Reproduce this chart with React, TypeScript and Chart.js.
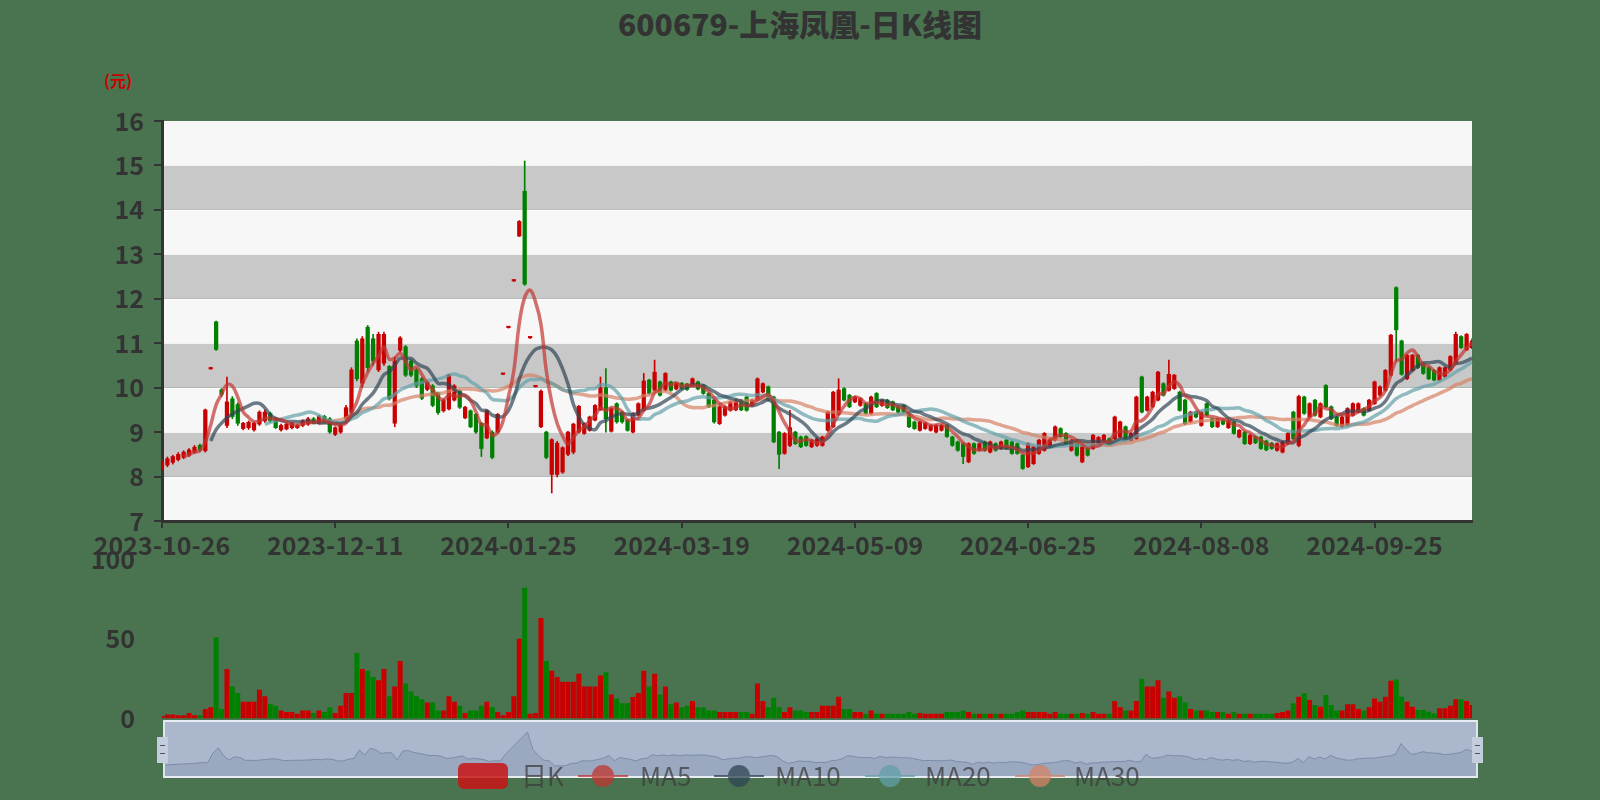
import React, { useEffect, useRef } from "react";
import { Chart, registerables } from "chart.js";

Chart.register(...registerables);

// ---------- data ----------
const START_DATE = "2023-10-26";
const HOLIDAYS = [
  "2024-01-01", "2024-02-09", "2024-02-12", "2024-02-13", "2024-02-14", "2024-02-15", "2024-02-16",
  "2024-04-04", "2024-04-05", "2024-05-01", "2024-05-02", "2024-05-03", "2024-06-10",
  "2024-09-16", "2024-09-17", "2024-10-01", "2024-10-02", "2024-10-03", "2024-10-04", "2024-10-07",
];
const LABEL_EVERY = 32;

// [open, close, low, high]
const ohlc: number[][] = [
  [8.20, 8.32, 8.15, 8.36], [8.26, 8.40, 8.22, 8.44], [8.32, 8.45, 8.28, 8.48], [8.38, 8.50, 8.35, 8.54], [8.43, 8.55, 8.40, 8.58],
  [8.48, 8.60, 8.45, 8.63], [8.55, 8.66, 8.52, 8.70], [8.70, 8.60, 8.56, 8.73], [8.58, 9.50, 8.55, 9.52], [10.42, 10.44, 10.42, 10.46],
  [11.48, 10.86, 10.84, 11.50], [9.95, 9.85, 9.80, 9.98], [9.15, 9.68, 9.10, 10.24], [9.75, 9.35, 9.30, 9.80], [9.62, 9.20, 9.15, 9.66],
  [9.08, 9.20, 9.05, 9.22], [9.10, 9.22, 9.06, 9.25], [9.05, 9.20, 9.02, 9.23], [9.18, 9.45, 9.15, 9.48], [9.25, 9.45, 9.22, 9.50],
  [9.42, 9.25, 9.22, 9.45], [9.30, 9.10, 9.08, 9.33], [9.05, 9.15, 9.02, 9.18], [9.07, 9.18, 9.05, 9.20], [9.10, 9.20, 9.07, 9.22],
  [9.10, 9.15, 9.08, 9.18], [9.15, 9.25, 9.12, 9.28], [9.18, 9.30, 9.15, 9.33], [9.30, 9.20, 9.18, 9.33], [9.20, 9.35, 9.18, 9.38],
  [9.35, 9.22, 9.20, 9.38], [9.30, 9.00, 8.97, 9.33], [8.95, 9.10, 8.92, 9.12], [9.00, 9.15, 8.97, 9.18], [9.30, 9.55, 9.25, 9.60],
  [9.45, 10.40, 9.40, 10.45], [11.05, 10.20, 10.15, 11.10], [10.10, 11.10, 10.00, 11.15], [11.36, 10.45, 10.36, 11.40], [11.10, 10.60, 10.50, 11.20],
  [10.40, 11.20, 10.36, 11.25], [10.55, 11.20, 10.50, 11.25], [10.48, 9.75, 9.72, 10.50], [9.20, 10.60, 9.12, 10.69], [10.84, 11.12, 10.80, 11.15],
  [10.92, 10.28, 10.25, 10.95], [10.60, 10.28, 10.25, 10.63], [10.40, 10.04, 10.00, 10.43], [10.20, 9.76, 9.73, 10.23], [9.96, 10.12, 9.93, 10.15],
  [10.04, 9.60, 9.57, 10.07], [9.88, 9.44, 9.40, 9.90], [9.48, 9.72, 9.45, 9.75], [9.52, 10.28, 9.50, 10.30], [9.72, 10.04, 9.70, 10.07],
  [9.92, 9.56, 9.53, 9.95], [9.32, 9.56, 9.30, 9.58], [9.48, 9.12, 9.10, 9.50], [9.40, 9.00, 8.97, 9.42], [9.20, 8.63, 8.45, 9.22],
  [8.87, 9.48, 8.85, 9.50], [9.00, 8.43, 8.40, 9.03], [9.00, 9.40, 8.98, 9.42], [10.30, 10.31, 10.29, 10.32], [11.35, 11.36, 11.34, 11.37],
  [12.40, 12.42, 12.39, 12.43], [13.41, 13.74, 13.40, 13.76], [14.42, 12.33, 12.30, 15.10], [11.12, 11.13, 11.11, 11.14], [10.02, 10.03, 10.01, 10.04],
  [9.12, 9.92, 9.10, 9.95], [9.00, 8.43, 8.40, 9.02], [8.05, 8.83, 7.63, 8.85], [8.05, 8.75, 7.99, 8.79], [8.10, 8.65, 8.07, 8.67],
  [8.50, 9.00, 8.47, 9.02], [8.55, 9.18, 8.51, 9.20], [9.00, 9.58, 8.98, 9.60], [8.97, 9.19, 8.95, 9.21], [9.04, 9.34, 9.02, 9.36],
  [9.27, 9.60, 9.25, 9.62], [9.50, 10.00, 9.49, 10.24], [10.00, 9.30, 9.00, 10.43], [9.02, 9.53, 9.00, 9.55], [9.64, 9.23, 9.20, 9.66],
  [9.45, 9.23, 9.20, 9.47], [9.27, 9.04, 9.02, 9.29], [9.00, 9.42, 8.98, 9.44], [9.38, 9.64, 9.36, 9.66], [9.49, 10.15, 9.47, 10.32],
  [10.17, 9.87, 9.85, 10.19], [9.94, 10.35, 9.92, 10.62], [10.13, 9.83, 9.81, 10.15], [9.94, 10.32, 9.92, 10.34], [10.13, 9.94, 9.92, 10.15],
  [9.97, 10.10, 9.95, 10.12], [10.10, 9.98, 9.96, 10.12], [10.08, 9.96, 9.94, 10.10], [10.05, 10.20, 10.03, 10.22], [10.13, 9.97, 9.95, 10.15],
  [10.05, 9.87, 9.85, 10.07], [9.87, 9.57, 9.55, 9.89], [9.72, 9.23, 9.20, 9.74], [9.19, 9.57, 9.17, 9.59], [9.38, 9.57, 9.36, 9.59],
  [9.49, 9.68, 9.47, 9.70], [9.50, 9.72, 9.48, 9.74], [9.72, 9.50, 9.48, 9.74], [9.79, 9.49, 9.47, 9.81], [9.60, 9.72, 9.58, 9.74],
  [9.72, 10.20, 9.70, 10.22], [9.90, 10.09, 9.88, 10.11], [10.02, 9.72, 9.70, 10.04], [9.79, 8.78, 8.76, 9.81], [9.00, 8.50, 8.18, 9.02],
  [8.52, 8.97, 8.50, 8.99], [8.70, 9.10, 8.67, 9.49], [9.00, 8.74, 8.72, 9.02], [8.89, 8.67, 8.65, 8.91], [8.90, 8.70, 8.68, 8.92],
  [8.67, 8.82, 8.65, 8.84], [8.70, 8.85, 8.68, 8.87], [8.70, 8.89, 8.68, 8.91], [9.04, 9.45, 9.02, 9.47], [9.12, 9.90, 9.10, 9.92],
  [9.40, 9.95, 9.38, 10.20], [9.98, 9.72, 9.70, 10.00], [9.83, 9.57, 9.55, 9.85], [9.68, 9.79, 9.66, 9.81], [9.60, 9.75, 9.58, 9.77],
  [9.64, 9.42, 9.40, 9.66], [9.42, 9.79, 9.40, 9.81], [9.87, 9.57, 9.55, 9.89], [9.60, 9.72, 9.58, 9.74], [9.72, 9.55, 9.53, 9.74],
  [9.68, 9.50, 9.48, 9.70], [9.57, 9.45, 9.43, 9.59], [9.60, 9.45, 9.43, 9.62], [9.45, 9.12, 9.10, 9.47], [9.23, 9.08, 9.06, 9.25],
  [9.04, 9.23, 9.02, 9.25], [9.08, 9.20, 9.06, 9.22], [9.04, 9.15, 9.02, 9.17], [9.00, 9.15, 8.98, 9.17], [9.04, 9.15, 9.02, 9.17],
  [9.15, 8.90, 8.88, 9.17], [8.89, 8.70, 8.68, 8.91], [8.78, 8.59, 8.57, 8.80], [8.74, 8.45, 8.29, 8.76], [8.33, 8.74, 8.31, 8.76],
  [8.74, 8.52, 8.50, 8.76], [8.59, 8.74, 8.57, 8.76], [8.78, 8.59, 8.57, 8.80], [8.55, 8.78, 8.53, 8.80], [8.74, 8.59, 8.57, 8.76],
  [8.63, 8.78, 8.61, 8.80], [8.82, 8.63, 8.61, 8.84], [8.78, 8.52, 8.50, 8.80], [8.74, 8.52, 8.50, 8.76], [8.48, 8.18, 8.16, 8.50],
  [8.22, 8.74, 8.20, 8.76], [8.29, 8.67, 8.27, 8.69], [8.52, 8.82, 8.50, 8.84], [8.59, 8.97, 8.57, 8.99], [8.67, 8.85, 8.65, 8.87],
  [8.82, 9.12, 8.80, 9.14], [9.08, 8.90, 8.88, 9.10], [8.97, 8.74, 8.72, 8.99], [8.59, 8.82, 8.57, 8.84], [8.82, 8.48, 8.46, 8.84],
  [8.33, 8.67, 8.31, 8.69], [8.63, 8.48, 8.46, 8.65], [8.63, 8.93, 8.61, 8.95], [8.75, 8.88, 8.73, 8.90], [8.78, 8.93, 8.76, 8.95],
  [8.85, 8.72, 8.70, 8.87], [8.85, 9.34, 8.83, 9.36], [8.89, 9.23, 8.87, 9.25], [9.12, 8.85, 8.83, 9.14], [8.82, 8.97, 8.80, 8.99],
  [8.85, 9.79, 8.83, 9.81], [10.24, 9.45, 9.43, 10.26], [9.49, 9.79, 9.47, 9.81], [9.57, 9.90, 9.55, 9.92], [9.72, 10.35, 9.70, 10.37],
  [10.09, 9.83, 9.81, 10.11], [9.94, 10.30, 9.92, 10.62], [9.98, 10.28, 9.96, 10.30], [9.90, 9.49, 9.47, 9.92], [9.72, 9.19, 9.17, 9.74],
  [9.23, 9.45, 9.21, 9.47], [9.45, 9.34, 9.32, 9.47], [9.15, 9.45, 9.13, 9.47], [9.64, 9.38, 9.36, 9.66], [9.30, 9.12, 9.10, 9.32],
  [9.12, 9.30, 9.10, 9.32], [9.28, 9.18, 9.16, 9.30], [9.10, 9.25, 9.08, 9.27], [9.23, 8.97, 8.95, 9.25], [8.89, 9.04, 8.87, 9.06],
  [9.00, 8.74, 8.72, 9.02], [8.74, 8.93, 8.72, 8.95], [8.90, 8.76, 8.74, 8.92], [8.89, 8.63, 8.61, 8.91], [8.80, 8.60, 8.58, 8.82],
  [8.75, 8.63, 8.61, 8.77], [8.59, 8.74, 8.57, 8.76], [8.55, 8.78, 8.53, 8.80], [8.74, 8.97, 8.72, 8.99], [9.45, 8.85, 8.83, 9.47],
  [8.70, 9.80, 8.67, 9.83], [9.79, 9.42, 9.40, 9.81], [9.34, 9.64, 9.32, 9.66], [9.72, 9.38, 9.36, 9.74], [9.34, 9.64, 9.32, 9.66],
  [10.05, 9.57, 9.55, 10.07], [9.57, 9.30, 9.28, 9.59], [9.34, 9.15, 9.13, 9.36], [9.12, 9.34, 9.10, 9.36], [9.15, 9.53, 9.13, 9.55],
  [9.38, 9.64, 9.36, 9.66], [9.45, 9.64, 9.43, 9.66], [9.53, 9.38, 9.36, 9.55], [9.49, 9.72, 9.47, 9.74], [9.64, 10.13, 9.62, 10.15],
  [9.83, 10.02, 9.81, 10.04], [9.94, 10.39, 9.92, 10.41], [10.28, 11.18, 10.26, 11.20], [12.25, 11.30, 10.60, 12.27], [11.05, 10.30, 10.28, 11.07],
  [10.20, 10.73, 10.18, 10.75], [10.39, 10.73, 10.37, 10.75], [10.73, 10.45, 10.43, 10.75], [10.54, 10.32, 10.30, 10.56], [10.45, 10.20, 10.18, 10.47],
  [10.39, 10.17, 10.15, 10.41], [10.17, 10.45, 10.15, 10.47], [10.25, 10.45, 10.23, 10.47], [10.40, 10.70, 10.38, 10.72], [10.55, 11.20, 10.53, 11.25],
  [11.15, 10.90, 10.88, 11.17], [10.85, 11.20, 10.83, 11.22], [10.90, 11.05, 10.88, 11.10],
];

const volumes: number[] = [
  1.5, 2.5, 2.5, 2, 2, 3.5, 2, 2, 6, 7,
  51, 6, 31, 20, 16, 10.5, 10.5, 10.5, 18, 14,
  9, 8, 5, 4, 4, 3, 5, 5, 3.5, 5,
  4, 7, 3.5, 8, 16, 16, 41, 31, 30, 26,
  24, 31, 14, 20, 36, 22, 17, 14, 12, 10,
  10, 5, 5, 14, 10.5, 8, 3.5, 5, 5, 8,
  10.5, 7, 4, 2, 4, 14, 50, 82, 3, 3.5,
  63, 36, 30, 26, 23, 23, 23, 28, 20, 20,
  20, 27, 29, 15, 12.5, 9.5, 9.5, 13.5, 16, 30,
  20, 28, 15, 20, 9, 10, 7, 8, 11, 7,
  7, 5, 5, 4, 4, 4, 4, 4, 4, 3,
  22, 11, 7, 13, 7, 4, 7, 5, 5, 4,
  4, 4, 8, 8, 8, 13.7, 6, 6, 4, 4,
  3, 5, 3, 3, 3, 3, 3, 3, 4, 3,
  3.5, 3, 3, 3, 3, 4, 4, 4, 5, 4,
  3, 3, 3, 3, 3, 3, 3, 3, 4, 5,
  4, 4, 4, 4, 3, 4, 3, 3, 3, 3,
  3.5, 3, 4, 3, 3, 3, 11, 7, 5, 5,
  11, 25, 20, 20, 24, 13, 17, 13, 14, 10,
  6, 5, 5, 5, 4, 4, 4, 3, 4, 3,
  3, 3, 3, 3, 3, 3, 3.5, 4, 5, 9.5,
  13.7, 15.8, 11.6, 8.5, 7.4, 14.7, 8.5, 5, 5, 9,
  9, 6, 5, 7, 12.6, 10.5, 13.7, 23.7, 24.5, 13.7,
  10.5, 7.4, 5.3, 5.3, 4.3, 3.2, 6.4, 6.4, 8, 12,
  12, 11, 8.5,
];

const MA_PERIODS = [5, 10, 20, 30];
const MA_NAMES = ["MA5", "MA10", "MA20", "MA30"];
const PRICE_MIN = 7;
const PRICE_MAX = 16;
const VOL_MAX = 100;

// ---------- styles ----------
const BG = "#4a7350";
const RED = "#c80000";
const GREEN = "#008000";
const MA_COLORS = ["rgba(194,53,49,0.7)", "rgba(47,69,84,0.7)", "rgba(97,160,168,0.7)", "rgba(212,130,101,0.7)"];
const MA_SOLID = ["#c23531", "#2f4554", "#61a0a8", "#d48265"];
const TEXT = "#333333";
const AXIS = "#333333";
const FONT = '"Noto Sans CJK SC", "Open Sans", sans-serif';

// plot geometry (px)
const PLOT_LEFT = 162;
const PLOT_RIGHT = 1472;
const MAIN_TOP = 121;
const MAIN_BOTTOM = 521;
const MAIN_H = 575;
const VOL_CANVAS_TOP = 515;
const VOL_H = 250;
const VOL_TOP = 559;
const VOL_BOTTOM = 718.5;

function tradingDays(start: string, count: number, holidays: string[]): string[] {
  const out: string[] = [];
  const hs = new Set(holidays);
  const d = new Date(start + "T00:00:00Z");
  while (out.length < count) {
    const wd = d.getUTCDay();
    const s = d.toISOString().slice(0, 10);
    if (wd !== 0 && wd !== 6 && !hs.has(s)) out.push(s);
    d.setUTCDate(d.getUTCDate() + 1);
  }
  return out;
}

function movingAverage(values: number[], n: number): (number | null)[] {
  return values.map((_, i) => {
    if (i < n - 1) return null;
    let s = 0;
    for (let k = i - n + 1; k <= i; k++) s += values[k];
    return s / n;
  });
}

const categories = tradingDays(START_DATE, ohlc.length, HOLIDAYS);
const opens = ohlc.map((d) => d[0]);
const closes = ohlc.map((d) => d[1]);
const candleColors = ohlc.map((d) => (d[1] >= d[0] ? RED : GREEN));

const bandsPlugin = {
  id: "bands",
  beforeDraw(chart: any) {
    const { ctx, chartArea } = chart;
    const y = chart.scales.y;
    ctx.save();
    for (let v = PRICE_MIN; v < PRICE_MAX; v++) {
      const top = y.getPixelForValue(v + 1);
      const bot = y.getPixelForValue(v);
      ctx.fillStyle = v % 2 === 0 ? "#c8c8c8" : "#f7f7f7";
      ctx.fillRect(chartArea.left, top, chartArea.right - chartArea.left, bot - top);
    }
    ctx.strokeStyle = "rgba(255,255,255,0.8)";
    ctx.lineWidth = 1;
    for (let v = PRICE_MIN + 1; v < PRICE_MAX; v++) {
      const py = Math.round(y.getPixelForValue(v)) + 0.5;
      ctx.beginPath();
      ctx.moveTo(chartArea.left, py);
      ctx.lineTo(chartArea.right, py);
      ctx.stroke();
    }
    ctx.restore();
  },
};

export default function App() {
  const mainRef = useRef<HTMLCanvasElement>(null);
  const volRef = useRef<HTMLCanvasElement>(null);
  const shadowRef = useRef<HTMLCanvasElement>(null);

  useEffect(() => {
    document.body.style.margin = "0";
    const charts: Chart[] = [];

    const tickFont = { family: FONT, size: 25, weight: "bold" as const };

    charts.push(
      new Chart(mainRef.current!, {
        type: "bar",
        data: {
          labels: categories,
          datasets: [
            ...MA_PERIODS.map((p, k) => ({
              type: "line" as const,
              label: MA_NAMES[k],
              data: movingAverage(closes, p),
              borderColor: MA_COLORS[k],
              borderWidth: 3.5,
              pointRadius: 0,
              tension: 0.4,
              fill: false,
              order: 0,
            })),
            {
              type: "bar" as const,
              label: "日K",
              data: ohlc.map((d) => [Math.min(d[0], d[1]), Math.max(d[0], d[1])]),
              backgroundColor: candleColors,
              barThickness: 3.6,
              minBarLength: 1.5,
              grouped: false,
              order: 1,
            },
            {
              type: "bar" as const,
              label: "wick",
              data: ohlc.map((d) => [d[2], d[3]]),
              backgroundColor: candleColors,
              barThickness: 1,
              grouped: false,
              order: 2,
            },
          ] as any,
        },
        options: {
          responsive: false,
          animation: false,
          devicePixelRatio: 1,
          layout: { padding: { top: MAIN_TOP, right: 1600 - PLOT_RIGHT, left: 0, bottom: 0 } },
          plugins: { legend: { display: false }, tooltip: { enabled: false } },
          scales: {
            x: {
              type: "category",
              offset: false,
              grid: {
                display: true,
                offset: false,
                drawOnChartArea: false,
                drawTicks: true,
                tickLength: 7,
                color: AXIS,
                lineWidth: 2,
              },
              border: { display: true, color: AXIS, width: 3 },
              ticks: { autoSkip: false, maxRotation: 0, minRotation: 0, color: TEXT, font: tickFont, padding: 2 },
              afterBuildTicks: (s: any) => {
                s.ticks = s.ticks.filter((t: any) => t.value % LABEL_EVERY === 0);
              },
              afterFit: (s: any) => {
                s.height = MAIN_H - MAIN_BOTTOM;
              },
            },
            y: {
              min: PRICE_MIN,
              max: PRICE_MAX,
              grid: { display: true, drawOnChartArea: false, tickLength: 8, color: AXIS, lineWidth: 2 },
              border: { display: true, color: AXIS, width: 3 },
              ticks: { stepSize: 1, color: TEXT, font: tickFont, padding: 10 },
              afterFit: (s: any) => {
                s.width = PLOT_LEFT;
              },
            },
          },
        } as any,
        plugins: [bandsPlugin],
      })
    );

    charts.push(
      new Chart(volRef.current!, {
        type: "bar",
        data: {
          labels: categories,
          datasets: [
            {
              label: "volume",
              data: volumes,
              backgroundColor: candleColors,
              categoryPercentage: 1,
              barPercentage: 0.92,
            },
          ],
        },
        options: {
          responsive: false,
          animation: false,
          devicePixelRatio: 1,
          layout: {
            padding: {
              top: VOL_TOP - VOL_CANVAS_TOP,
              right: 1600 - PLOT_RIGHT,
              left: 0,
              bottom: VOL_CANVAS_TOP + VOL_H - VOL_BOTTOM,
            },
          },
          plugins: { legend: { display: false }, tooltip: { enabled: false } },
          scales: {
            x: { type: "category", offset: false, display: false },
            y: {
              min: 0,
              max: VOL_MAX,
              grid: { display: false },
              border: { display: false },
              ticks: { stepSize: 50, color: TEXT, font: tickFont, padding: 19 },
              afterFit: (s: any) => {
                s.width = PLOT_LEFT;
              },
            },
          },
        } as any,
      })
    );

    const oMin = Math.min(...opens);
    const oMax = Math.max(...opens);
    const off = (oMax - oMin) * 0.3;
    charts.push(
      new Chart(shadowRef.current!, {
        type: "line",
        data: {
          labels: categories,
          datasets: [
            {
              label: "shadow",
              data: opens,
              borderColor: "rgba(120,136,165,0.9)",
              borderWidth: 1,
              backgroundColor: "rgba(140,156,182,0.55)",
              fill: "start",
              pointRadius: 0,
              tension: 0,
            },
          ],
        },
        options: {
          responsive: false,
          animation: false,
          devicePixelRatio: 1,
          layout: { padding: 0 },
          plugins: { legend: { display: false }, tooltip: { enabled: false } },
          scales: {
            x: { type: "category", offset: false, display: false },
            y: { display: false, min: oMin - off, max: oMax + off },
          },
        } as any,
      })
    );

    return () => charts.forEach((c) => c.destroy());
  }, []);

  const legendText: React.CSSProperties = {
    position: "absolute",
    top: 760,
    fontFamily: FONT,
    fontSize: 26,
    lineHeight: "30px",
    color: "rgba(60,60,60,0.75)",
    whiteSpace: "nowrap",
  };
  const maIcon = (left: number, k: number) => (
    <div key={"ic" + k} style={{ position: "absolute", left, top: 764, width: 50, height: 24, opacity: 0.75 }}>
      <div style={{ position: "absolute", left: 0, top: 11, width: 50, height: 2, background: MA_SOLID[k] }} />
      <div
        style={{ position: "absolute", left: 14, top: 1, width: 22, height: 22, borderRadius: 11, background: MA_SOLID[k] }}
      />
    </div>
  );
  const maIconLeft = [578, 714, 865, 1015];
  const maTextLeft = [640, 775, 925, 1074];

  return (
    <div style={{ position: "fixed", left: 0, top: 0, width: 1600, height: 800, background: BG, overflow: "hidden" }}>
      <div
        style={{
          position: "absolute",
          left: 0,
          width: 1600,
          top: 4,
          textAlign: "center",
          fontFamily: FONT,
          fontWeight: 900,
          fontSize: 30,
          lineHeight: "38px",
          color: "#333",
        }}
      >
        600679-上海凤凰-日K线图
      </div>
      <div
        style={{
          position: "absolute",
          left: 104,
          top: 70,
          fontFamily: FONT,
          fontSize: 16,
          lineHeight: "20px",
          color: "#cc0000",
          fontWeight: "bold",
        }}
      >
        (元)
      </div>
      <canvas ref={mainRef} width={1600} height={MAIN_H} style={{ position: "absolute", left: 0, top: 0 }} />
      <canvas ref={volRef} width={1600} height={VOL_H} style={{ position: "absolute", left: 0, top: VOL_CANVAS_TOP }} />
      <div
        style={{
          position: "absolute",
          left: 164,
          top: 720,
          width: 1313,
          height: 58,
          background: "#aab7cc",
          borderTop: "2px solid #e9edf3",
          borderBottom: "2px solid #e9edf3",
          boxSizing: "border-box",
        }}
      >
        <canvas ref={shadowRef} width={1313} height={54} style={{ position: "absolute", left: 0, top: 0 }} />
      </div>
      <div style={{ position: "absolute", left: 163, top: 720, width: 2, height: 58, background: "#dfe5ee" }} />
      <div style={{ position: "absolute", left: 1476, top: 720, width: 2, height: 58, background: "#dfe5ee" }} />
      {[157, 1472].map((l) => (
        <div key={l} style={{ position: "absolute", left: l, top: 737, width: 11, height: 26, background: "#c3cddb" }}>
          <div style={{ position: "absolute", left: 3, top: 8, width: 5, height: 1, background: "#4a5568" }} />
          <div style={{ position: "absolute", left: 3, top: 16, width: 5, height: 1, background: "#4a5568" }} />
        </div>
      ))}
      <div
        style={{ position: "absolute", left: 458, top: 763, width: 50, height: 26, borderRadius: 6, background: "rgba(200,20,20,0.85)" }}
      />
      <div style={{ ...legendText, left: 521 }}>日K</div>
      {MA_NAMES.map((n, k) => maIcon(maIconLeft[k], k))}
      {MA_NAMES.map((n, k) => (
        <div key={n} style={{ ...legendText, left: maTextLeft[k] }}>
          {n}
        </div>
      ))}
    </div>
  );
}
